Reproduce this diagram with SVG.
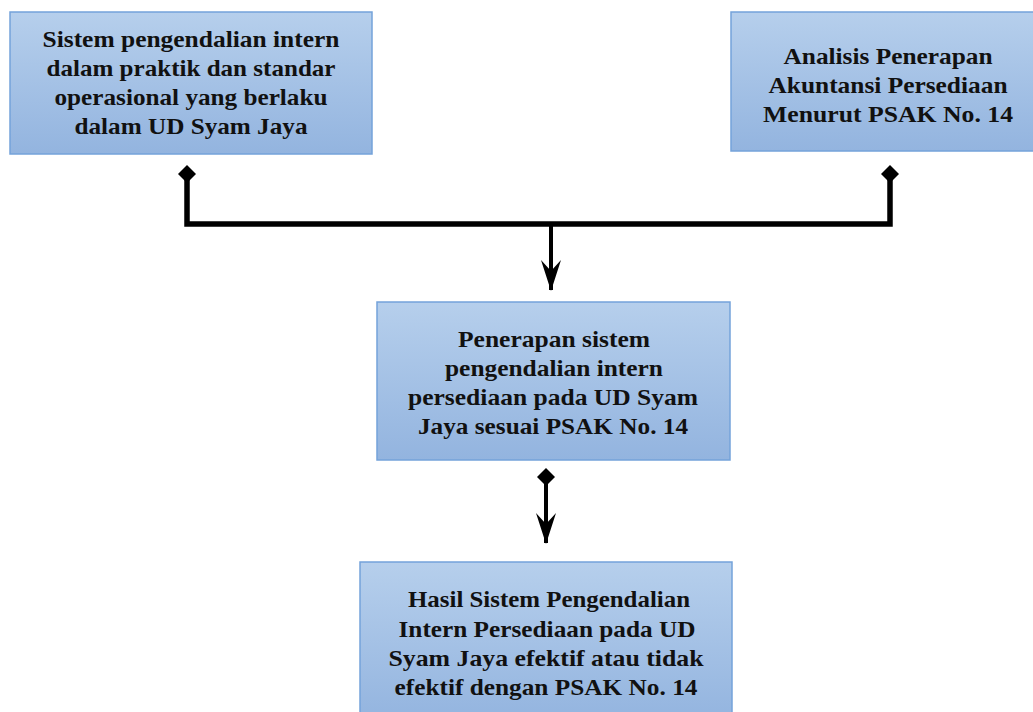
<svg xmlns="http://www.w3.org/2000/svg" width="1033" height="712" viewBox="0 0 1033 712">
<defs>
<linearGradient id="g" x1="0" y1="0" x2="0" y2="1">
<stop offset="0" stop-color="#b6cfec"/>
<stop offset="1" stop-color="#93b4df"/>
</linearGradient>
<marker id="dia" markerWidth="20" markerHeight="18" refX="10" refY="9" markerUnits="userSpaceOnUse" orient="0">
<path d="M10 0 L19 9 L10 18 L1 9 Z" fill="#000"/>
</marker>
<marker id="arr" markerWidth="22" markerHeight="32" refX="11" refY="30" markerUnits="userSpaceOnUse" orient="0">
<path d="M1 0 L11 11 L21 0 L11 31 Z" fill="#000"/>
</marker>
</defs>
<style>
.box{fill:url(#g);stroke:#74a3da;stroke-width:1.5}
.t{font-family:"Liberation Serif","Times New Roman",serif;font-weight:bold;font-size:24px;fill:#111;text-anchor:middle}
.c{fill:none;stroke:#000;stroke-linejoin:miter}
</style>
<rect width="1033" height="712" fill="#fff"/>
<g id="connectors">
<path class="c" d="M187 174 V224 H890 V174" stroke-width="5.5" marker-start="url(#dia)" marker-end="url(#dia)"/>
<path class="c" d="M551 224 V290" stroke-width="4" marker-end="url(#arr)"/>
<path class="c" d="M546 477 V543" stroke-width="4" marker-start="url(#dia)" marker-end="url(#arr)"/>
</g>
<g id="node1">
<rect class="box" x="10" y="12" width="362" height="142"/>
<text class="t" x="191" y="47" textLength="297" lengthAdjust="spacingAndGlyphs">Sistem pengendalian intern</text>
<text class="t" x="191" y="76" textLength="289" lengthAdjust="spacingAndGlyphs">dalam praktik dan standar</text>
<text class="t" x="191" y="105" textLength="273" lengthAdjust="spacingAndGlyphs">operasional yang berlaku</text>
<text class="t" x="191" y="134" textLength="233" lengthAdjust="spacingAndGlyphs">dalam UD Syam Jaya</text>
</g>
<g id="node2">
<rect class="box" x="731" y="12" width="314" height="139"/>
<text class="t" x="888" y="64" textLength="209" lengthAdjust="spacingAndGlyphs">Analisis Penerapan</text>
<text class="t" x="888" y="93" textLength="239" lengthAdjust="spacingAndGlyphs">Akuntansi Persediaan</text>
<text class="t" x="888" y="122" textLength="250" lengthAdjust="spacingAndGlyphs">Menurut PSAK No. 14</text>
</g>
<g id="node3">
<rect class="box" x="377" y="302" width="353" height="158"/>
<text class="t" x="554" y="347" textLength="192" lengthAdjust="spacingAndGlyphs">Penerapan sistem</text>
<text class="t" x="554" y="376" textLength="218" lengthAdjust="spacingAndGlyphs">pengendalian intern</text>
<text class="t" x="553" y="405" textLength="290" lengthAdjust="spacingAndGlyphs">persediaan pada UD Syam</text>
<text class="t" x="553" y="434" textLength="270" lengthAdjust="spacingAndGlyphs">Jaya sesuai PSAK No. 14</text>
</g>
<g id="node4">
<rect class="box" x="360" y="562" width="372" height="160"/>
<text class="t" x="549" y="607" textLength="282" lengthAdjust="spacingAndGlyphs">Hasil Sistem Pengendalian</text>
<text class="t" x="547" y="637" textLength="297" lengthAdjust="spacingAndGlyphs">Intern Persediaan pada UD</text>
<text class="t" x="546" y="666" textLength="315" lengthAdjust="spacingAndGlyphs">Syam Jaya efektif atau tidak</text>
<text class="t" x="546" y="695" textLength="303" lengthAdjust="spacingAndGlyphs">efektif dengan PSAK No. 14</text>
</g>
</svg>
